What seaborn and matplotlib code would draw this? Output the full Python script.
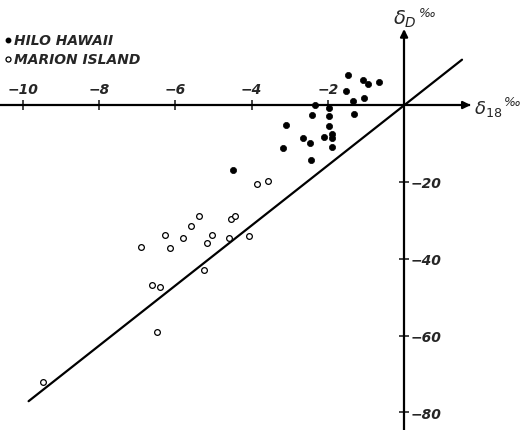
import matplotlib
matplotlib.use("Agg")
import matplotlib.pyplot as plt
import seaborn as sns
import pandas as pd
import numpy as np

# Data (delta-18 O, delta-D, per mille)
hilo_d18 = [-1.46, -1.09, -0.95, -0.67, -1.53, -1.05, -1.34, -2.33, -1.98, -2.42,
            -1.96, -1.31, -3.09, -1.96, -2.66, -2.46, -2.09, -1.88, -1.88, -1.88,
            -3.18, -2.43, -4.49]
hilo_dD = [7.8, 6.6, 5.6, 5.9, 3.6, 1.7, 1.0, 0.0, -0.9, -2.6,
           -2.8, -2.3, -5.1, -5.4, -8.7, -9.9, -8.4, -7.5, -8.7, -10.8,
           -11.2, -14.2, -16.9]
marion_d18 = [-3.87, -3.57, -4.54, -4.43, -5.38, -5.58, -6.27, -5.80, -5.03, -4.58,
              -4.08, -5.18, -6.89, -6.13, -5.26, -6.60, -6.39, -6.49, -9.48]
marion_dD = [-20.5, -19.8, -29.7, -28.9, -29.0, -31.5, -33.8, -34.5, -33.8, -34.5,
             -34.1, -35.8, -36.9, -37.1, -42.9, -46.9, -47.5, -59.1, -72.0]
line_d18 = [-9.85, 1.52]
line_dD = [-77.1, 11.8]
series_names = ["HILO HAWAII", "MARION ISLAND"]
x_ticks = [-10, -8, -6, -4, -2]
y_ticks = [-20, -40, -60, -80]

df = pd.DataFrame({
    "d18": hilo_d18 + marion_d18,
    "dD": hilo_dD + marion_dD,
    "site": [series_names[0]] * len(hilo_d18) + [series_names[1]] * len(marion_d18),
})

sns.set_style("white")
plt.rcParams["font.family"] = ["DejaVu Sans"]

fig = plt.figure(figsize=(5.23, 4.31), dpi=100)
ax = fig.add_axes([0, 0, 1, 1])

xlim = (-10.60, 3.12)
ylim = (-84.6, 27.6)

# line
sns.lineplot(x=line_d18, y=line_dD, ax=ax, color="black", lw=1.6, sort=False)

# points
sns.scatterplot(data=df[df.site == series_names[0]], x="d18", y="dD", ax=ax,
                color="black", s=20, edgecolor="black", linewidth=0.5, legend=False, zorder=3)
sns.scatterplot(data=df[df.site == series_names[1]], x="d18", y="dD", ax=ax,
                facecolor="white", s=17, edgecolor="black", linewidth=0.9, legend=False, zorder=3)

ax.set_xlim(*xlim)
ax.set_ylim(*ylim)
ax.set_xlabel("")
ax.set_ylabel("")

# spines through origin
for s in ["left", "bottom"]:
    ax.spines[s].set_visible(False)
ax.spines["top"].set_position(("data", 0))
ax.spines["right"].set_position(("data", 0))
ax.spines["top"].set_bounds(xlim[0], 1.7)
ax.spines["right"].set_bounds(ylim[0], 19)
for s in ["top", "right"]:
    ax.spines[s].set_linewidth(1.6)
    ax.spines[s].set_color("black")

ax.xaxis.set_ticks_position("top")
ax.yaxis.set_ticks_position("right")
ax.set_xticks(x_ticks)
ax.set_yticks(y_ticks)
ax.set_xticklabels([f"\u2212{abs(v)}" for v in x_ticks], fontstyle="italic", fontweight="bold")
ax.set_yticklabels([f"\u2212{abs(v)}" for v in y_ticks], fontstyle="italic", fontweight="bold")
ax.tick_params(axis="x", direction="inout", length=7, width=1.2, pad=3, labelsize=10)
ax.tick_params(axis="y", direction="inout", length=7, width=1.2, pad=1, labelsize=10)

# arrow heads
ax.annotate("", xy=(1.82, 0), xytext=(1.5, 0),
            arrowprops=dict(arrowstyle="-|>", color="black", lw=1.6, mutation_scale=11))
ax.annotate("", xy=(0, 20.5), xytext=(0, 17),
            arrowprops=dict(arrowstyle="-|>", color="black", lw=1.6, mutation_scale=11))

# axis labels
ax.text(-0.3, 22.5, r"$\delta_D$", fontsize=14, ha="left", va="center")
ax.text(0.38, 24.2, "\u2030", fontsize=9, ha="left", va="center", fontstyle="italic")
ax.text(1.84, -0.8, r"$\delta_{18}$", fontsize=13, ha="left", va="center")
ax.text(2.62, 1.0, "\u2030", fontsize=9, ha="left", va="center", fontstyle="italic")

# legend
ax.plot([-10.4], [16.9], "o", color="black", ms=3.2)
ax.text(-10.22, 16.9, series_names[0], fontsize=10, fontstyle="italic",
        fontweight="bold", va="center", ha="left")
ax.plot([-10.4], [12.0], "o", mfc="white", mec="black", mew=0.9, ms=3.6)
ax.text(-10.22, 12.0, series_names[1], fontsize=10, fontstyle="italic",
        fontweight="bold", va="center", ha="left")

fig.savefig("out.png", dpi=100)
